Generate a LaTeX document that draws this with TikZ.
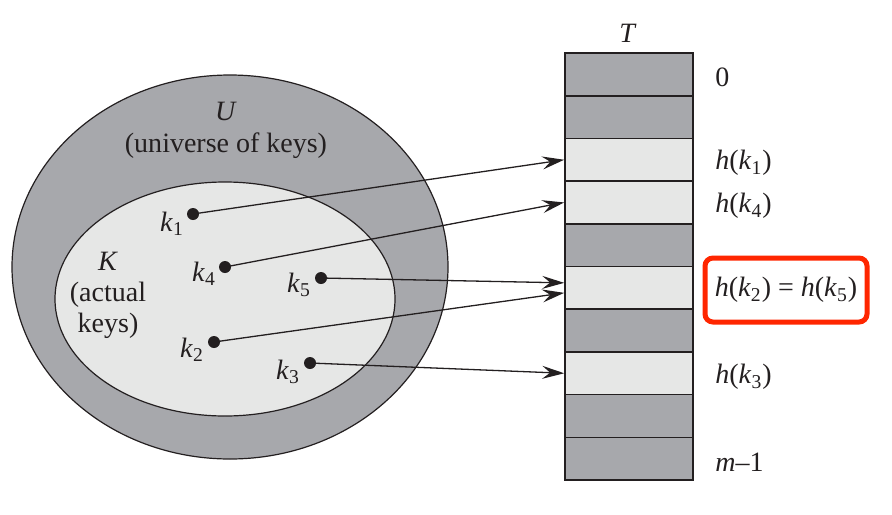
\documentclass[tikz,border=0pt]{standalone}
\usepackage{fontspec}
\setmainfont{Liberation Serif}
\usepackage{xcolor}
\definecolor{ink}{RGB}{35,31,32}
\definecolor{darkslot}{RGB}{167,168,172}
\definecolor{lightslot}{RGB}{230,231,230}
\definecolor{hired}{RGB}{255,38,0}
\usepackage{tikz}
\usetikzlibrary{arrows.meta, positioning, shapes.geometric, shadows}
\newcommand{\kname}[1]{\textit{k}\textsubscript{#1}}
\newcommand{\hname}[1]{\textit{h}(\kname{#1})}

\begin{document}
\begin{tikzpicture}[x=0.5pt, y=-0.5pt,
  >={Stealth[length=11pt, width=6.5pt, inset=4pt]},
  every node/.style={font=\fontsize{14}{15.5}\selectfont, text=ink},
  setshape/.style={
    ellipse, draw=ink, line width=0.6pt, inner sep=0pt,
  },
  slot/.style={
    rectangle, draw=ink, line width=0.8pt, inner sep=0pt,
    minimum width=64pt, minimum height=21.35pt,
  },
  slotdark/.style={slot, fill=darkslot},
  slotlight/.style={slot, fill=lightslot},
  keydot/.style={
    circle, fill=ink, inner sep=0pt, minimum size=6pt,
  },
  keyname/.style={inner sep=0pt},
  slotlabel/.style={anchor=west, inner sep=0pt},
  setlabel/.style={align=center, inner sep=0pt},
  arr/.style={
    ->, line width=0.65pt, color=ink, shorten <=-3pt,
  },
  hilite/.style={
    rectangle, rounded corners=4pt,
    draw=hired, line width=2.5pt, fill=white,
    minimum width=81pt, minimum height=32pt,
    drop shadow={shadow xshift=0.8pt, shadow yshift=-0.8pt, opacity=0.35},
  },
]
\useasboundingbox (0,0) rectangle (892,514);

% --- Universe and key set ---
\node[setshape, fill=darkslot, minimum width=218pt, minimum height=192pt] (U) at (230, 267) {};
\node[setshape, fill=lightslot, minimum width=170pt, minimum height=117pt] (K) at (225, 299) {};
\node[setlabel, font=\fontsize{14}{16}\selectfont] (ulbl) at (226, 130) {\textit{U}\\(universe of keys)};
\node[setlabel] (klbl) at (108, 295) {\textit{K}\\(actual\\keys)};

% --- Keys ---
\node[keydot] (k1) at (193, 214) {};
\node[keydot] (k4) at (225, 267) {};
\node[keydot] (k5) at (321, 278) {};
\node[keydot] (k2) at (214, 342) {};
\node[keydot] (k3) at (310, 363) {};
\node[keyname] at (172, 224) {\kname{1}};
\node[keyname] at (204, 274) {\kname{4}};
\node[keyname] at (299, 285) {\kname{5}};
\node[keyname] at (192, 350) {\kname{2}};
\node[keyname] at (288, 372) {\kname{3}};

% --- Table T ---
\node (T) at (628, 33) {\textit{T}};
\node[slotdark]  (c0) at (629, 74.35) {};
\node[slotdark]  (c1) at (629, 117.05) {};
\node[slotlight] (c2) at (629, 159.75) {};
\node[slotlight] (c3) at (629, 202.45) {};
\node[slotdark]  (c4) at (629, 245.15) {};
\node[slotlight] (c5) at (629, 287.85) {};
\node[slotdark]  (c6) at (629, 330.55) {};
\node[slotlight] (c7) at (629, 373.25) {};
\node[slotdark]  (c8) at (629, 415.95) {};
\node[slotdark]  (c9) at (629, 458.65) {};

% --- Slot labels ---
\node[slotlabel] at (715, 77) {0};
\node[slotlabel] at (715, 163) {\hname{1}};
\node[slotlabel] at (715, 206) {\hname{4}};
\node[hilite] (coll) at (786, 290) {\hname{2} = \hname{5}};
\node[slotlabel] at (715, 377) {\hname{3}};
\node[slotlabel] at (715, 462) {\textit{m}--1};

% --- Hashing ---
\draw[arr] (k1) -- (c2.west);
\draw[arr] (k4) -- (c3.west);
\draw[arr] (k5) -- ([yshift=2.5pt]c5.west);
\draw[arr] (k2) -- ([yshift=-2.5pt]c5.west);
\draw[arr] (k3) -- (c7.west);

\end{tikzpicture}
\end{document}
